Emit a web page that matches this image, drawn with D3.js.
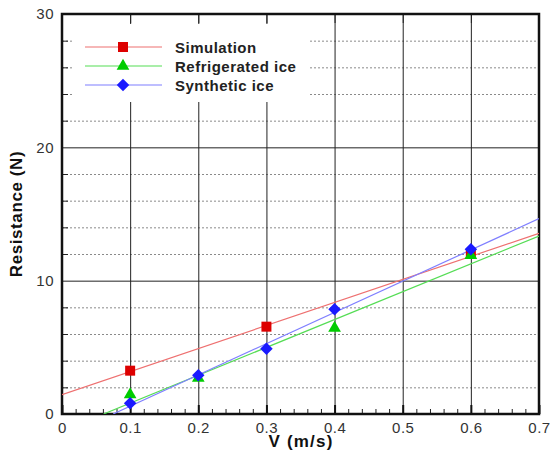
<!DOCTYPE html>
<html>
<head>
<meta charset="utf-8">
<script src="https://cdn.jsdelivr.net/npm/d3@7"></script>
<style>
  body { margin: 0; background: #fff; }
  svg text { font-family: "Liberation Sans", Arial, sans-serif; }
</style>
</head>
<body>
<div class="chart"></div>
<script>
// data
var speeds = [0.1, 0.2, 0.3, 0.4, 0.6];
var simulation = [3.25, null, 6.55, null, 12.0];
var refrigerated = [1.45, 2.7, null, 6.45, 11.9];
var synthetic = [0.8, 2.9, 4.9, 7.85, 12.35];

// fitted trend lines, end points
var simulationFit = [[0, 1.45], [0.7, 13.55]];
var refrigeratedFit = [[0.061, 0], [0.7, 13.35]];
var syntheticFit = [[0.075, 0], [0.7, 14.65]];

var xTicks = [0, 0.1, 0.2, 0.3, 0.4, 0.5, 0.6, 0.7];
var yTicks = [0, 10, 20, 30];
var seriesNames = ['Simulation', 'Refrigerated ice', 'Synthetic ice'];

document.addEventListener('DOMContentLoaded', function () {
  var width = 552, height = 452;
  var left = 62, right = 539, top = 14, bottom = 414;

  var svg = d3.select('div.chart').append('svg')
      .attr('width', width)
      .attr('height', height);

  var xScale = d3.scaleLinear().domain([0, 0.7]).range([left, right]);
  var yScale = d3.scaleLinear().domain([0, 30]).range([bottom, top]);

  var xMinor = d3.range(0.02, 0.7, 0.02).filter(function (d) {
    return Math.abs(d * 10 - Math.round(d * 10)) > 0.01;
  });
  var yMinor = d3.range(2, 30, 2).filter(function (d) { return d % 10 !== 0; });

  // dotted minor grid
  svg.append('g')
    .attr('class', 'grid minor')
    .attr('transform', 'translate(' + left + ',0)')
    .call(d3.axisLeft(yScale).tickValues(yMinor).tickSize(-(right - left)).tickFormat(''))
    .call(function (g) {
      g.select('.domain').remove();
      g.selectAll('line').attr('stroke', '#8a8a8a').attr('stroke-dasharray', '2,2').attr('stroke-width', 1);
    });

  // solid major grid
  svg.append('g')
    .attr('transform', 'translate(0,' + bottom + ')')
    .call(d3.axisBottom(xScale).tickValues(xTicks.slice(1, -1)).tickSize(-(bottom - top)).tickFormat(''))
    .call(function (g) {
      g.select('.domain').remove();
      g.selectAll('line').attr('stroke', '#222').attr('stroke-width', 1);
    });
  svg.append('g')
    .attr('transform', 'translate(' + left + ',0)')
    .call(d3.axisLeft(yScale).tickValues([10, 20]).tickSize(-(right - left)).tickFormat(''))
    .call(function (g) {
      g.select('.domain').remove();
      g.selectAll('line').attr('stroke', '#222').attr('stroke-width', 1);
    });

  // legend box covers the grid
  var legend = svg.append('g').attr('class', 'legend');
  legend.append('rect')
    .attr('x', 72).attr('y', 24)
    .attr('width', 236).attr('height', 78)
    .attr('fill', 'white');

  // ticks
  svg.append('g')
    .attr('transform', 'translate(0,' + bottom + ')')
    .call(d3.axisBottom(xScale).tickValues(xMinor).tickSize(-5).tickFormat(''))
    .call(function (g) {
      g.select('.domain').remove();
      g.selectAll('line').attr('stroke', '#222');
    });
  svg.append('g')
    .attr('transform', 'translate(0,' + bottom + ')')
    .call(d3.axisBottom(xScale).tickValues(xTicks).tickSize(-9).tickFormat(''))
    .call(function (g) {
      g.select('.domain').remove();
      g.selectAll('line').attr('stroke', '#111').attr('stroke-width', 2);
    });
  svg.append('g')
    .attr('transform', 'translate(0,' + top + ')')
    .call(d3.axisTop(xScale).tickValues(xTicks).tickSize(-9).tickFormat(''))
    .call(function (g) {
      g.select('.domain').remove();
      g.selectAll('line').attr('stroke', '#222');
    });
  svg.append('g')
    .attr('transform', 'translate(' + left + ',0)')
    .call(d3.axisLeft(yScale).tickValues(yMinor).tickSize(-6).tickFormat(''))
    .call(function (g) {
      g.select('.domain').remove();
      g.selectAll('line').attr('stroke', '#222');
    });

  // tick labels
  svg.append('g')
    .attr('transform', 'translate(0,' + bottom + ')')
    .call(d3.axisBottom(xScale).tickValues(xTicks).tickSize(0).tickPadding(8)
      .tickFormat(function (d) { return d === 0 ? '0' : d3.format('.1f')(d); }))
    .call(function (g) {
      g.select('.domain').remove();
      g.selectAll('text').attr('font-size', 15).attr('fill', '#333')
        .attr('font-family', '"Liberation Sans", Arial, sans-serif')
        .attr('letter-spacing', 0.5);
    });
  svg.append('g')
    .attr('transform', 'translate(' + left + ',0)')
    .call(d3.axisLeft(yScale).tickValues(yTicks).tickSize(0).tickPadding(8))
    .call(function (g) {
      g.select('.domain').remove();
      g.selectAll('text').attr('font-size', 15).attr('fill', '#333')
        .attr('font-family', '"Liberation Sans", Arial, sans-serif')
        .attr('letter-spacing', 0.5);
    });

  // frame
  svg.append('rect')
    .attr('x', left).attr('y', top)
    .attr('width', right - left).attr('height', bottom - top)
    .attr('fill', 'none')
    .attr('stroke', '#111')
    .attr('stroke-width', 2.5);

  // axis titles
  svg.append('text')
    .attr('x', 301).attr('y', 447)
    .attr('text-anchor', 'middle')
    .attr('font-size', 17).attr('font-weight', 'bold')
    .attr('letter-spacing', 1.2)
    .attr('fill', '#111')
    .text('V (m/s)');
  svg.append('text')
    .attr('transform', 'translate(22,214) rotate(-90)')
    .attr('text-anchor', 'middle')
    .attr('font-size', 17).attr('font-weight', 'bold')
    .attr('letter-spacing', 0.6)
    .attr('fill', '#111')
    .text('Resistance (N)');

  // series
  svg.append('clipPath').attr('id', 'plot-clip')
    .append('rect')
    .attr('x', left).attr('y', top)
    .attr('width', right - left).attr('height', bottom - top);

  var line = d3.line()
      .x(function (d) { return xScale(d[0]); })
      .y(function (d) { return yScale(d[1]); });

  // diamond = square turned 45 degrees
  var series = [
    { name: seriesNames[0], values: simulation, fit: simulationFit, color: '#dd0000', lineColor: '#ee7070', shape: d3.symbolSquare, size: 100, rot: 0 },
    { name: seriesNames[1], values: refrigerated, fit: refrigeratedFit, color: '#00cc00', lineColor: '#55dd55', shape: d3.symbolTriangle, size: 70, rot: 0 },
    { name: seriesNames[2], values: synthetic, fit: syntheticFit, color: '#1a1aff', lineColor: '#7f7fff', shape: d3.symbolSquare, size: 78, rot: 45 }
  ];

  var plot = svg.append('g').attr('clip-path', 'url(#plot-clip)');

  series.forEach(function (s) {
    plot.append('path')
      .attr('d', line(s.fit))
      .attr('stroke', s.lineColor)
      .attr('stroke-width', 1.2)
      .attr('fill', 'none');
  });

  series.forEach(function (s) {
    var pts = speeds.map(function (v, i) { return [v, s.values[i]]; })
        .filter(function (d) { return d[1] !== null; });
    svg.selectAll('path.dot-' + s.name.replace(/\s/g, ''))
      .data(pts)
      .enter().append('path')
      .attr('d', d3.symbol().type(s.shape).size(s.size))
      .attr('transform', function (d) {
        return 'translate(' + xScale(d[0]) + ',' + yScale(d[1]) + ') rotate(' + s.rot + ')';
      })
      .attr('fill', s.color);
  });

  // legend entries
  series.forEach(function (s, i) {
    var ly = 47 + i * 19;
    legend.append('line')
      .attr('x1', 85).attr('x2', 162)
      .attr('y1', ly).attr('y2', ly)
      .attr('stroke', s.lineColor)
      .attr('stroke-width', 1.2);
    legend.append('path')
      .attr('d', d3.symbol().type(s.shape).size(s.size))
      .attr('transform', 'translate(123,' + ly + ') rotate(' + s.rot + ')')
      .attr('fill', s.color);
    legend.append('text')
      .attr('x', 175).attr('y', ly + 5.5)
      .attr('font-size', 15).attr('font-weight', 'bold')
      .attr('letter-spacing', 0.5)
      .attr('fill', '#222')
      .text(s.name);
  });
});
</script>
</body>
</html>
